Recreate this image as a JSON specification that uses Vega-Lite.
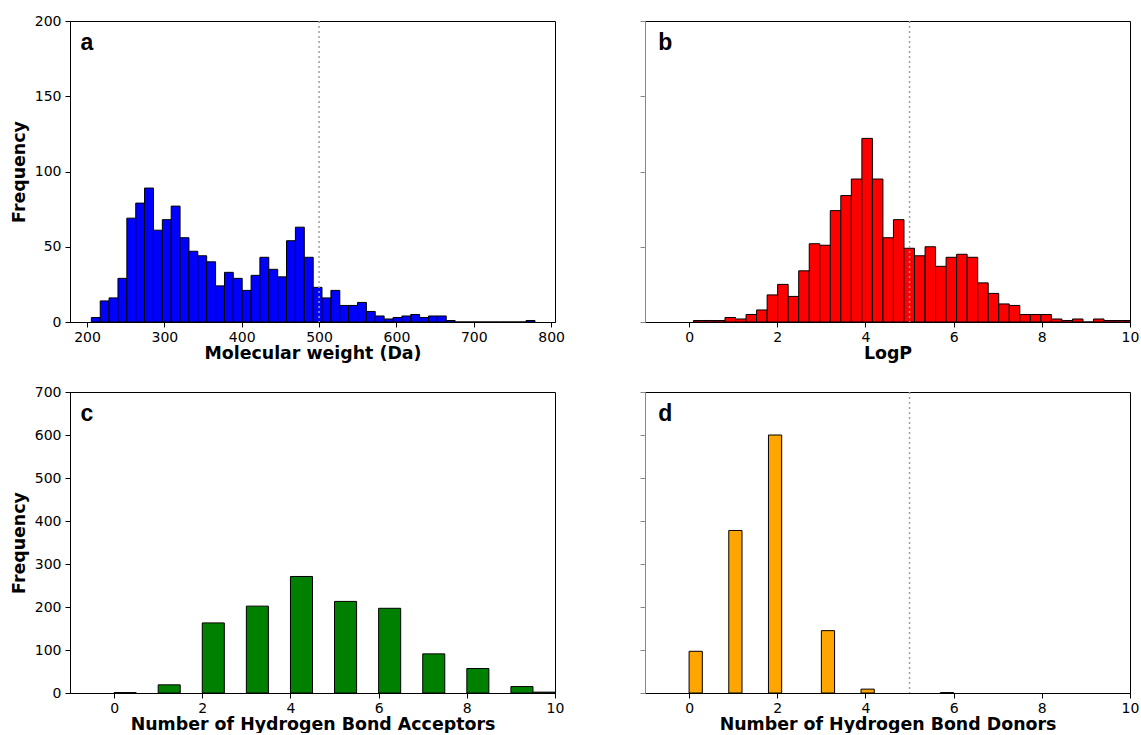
{
  "$schema": "https://vega.github.io/schema/vega-lite/v6.json",
  "padding": {"left": 9, "top": 13, "right": 5, "bottom": 0},
  "background": "white",
  "config": {
    "font": "DejaVu Sans",
    "view": {"stroke": "black", "strokeWidth": 1},
    "axis": {
      "labelFont": "DejaVu Sans", "labelFontSize": 14, "labelColor": "black",
      "titleFont": "DejaVu Sans", "titleFontSize": 17.4, "titleFontWeight": "bold", "titleColor": "black",
      "domainColor": "black", "tickColor": "black", "tickSize": 5, "labelPadding": 4,
      "grid": false, "labelFlush": false, "titlePadding": 6
    },
    "axisX": {"titlePadding": 0, "labelPadding": 3}
  },
  "columns": 2,
  "bounds": "flush",
  "spacing": {"row": 70, "column": 90},
  "concat": [
    {
      "width": 485, "height": 301,
      "layer": [
        {
          "data": {"values": [
            {"lo": 205.6, "hi": 217.1, "n": 3}, {"lo": 217.1, "hi": 228.5, "n": 14}, {"lo": 228.5, "hi": 240.0, "n": 16},
            {"lo": 240.0, "hi": 251.5, "n": 29}, {"lo": 251.5, "hi": 263.0, "n": 69}, {"lo": 263.0, "hi": 274.4, "n": 79},
            {"lo": 274.4, "hi": 285.9, "n": 89}, {"lo": 285.9, "hi": 297.4, "n": 61}, {"lo": 297.4, "hi": 308.8, "n": 68},
            {"lo": 308.8, "hi": 320.3, "n": 77}, {"lo": 320.3, "hi": 331.8, "n": 56}, {"lo": 331.8, "hi": 343.2, "n": 47},
            {"lo": 343.2, "hi": 354.7, "n": 44}, {"lo": 354.7, "hi": 366.2, "n": 40}, {"lo": 366.2, "hi": 377.7, "n": 24},
            {"lo": 377.7, "hi": 389.1, "n": 33}, {"lo": 389.1, "hi": 400.6, "n": 29}, {"lo": 400.6, "hi": 412.1, "n": 21},
            {"lo": 412.1, "hi": 423.5, "n": 31}, {"lo": 423.5, "hi": 435.0, "n": 43}, {"lo": 435.0, "hi": 446.5, "n": 35},
            {"lo": 446.5, "hi": 457.9, "n": 30}, {"lo": 457.9, "hi": 469.4, "n": 54}, {"lo": 469.4, "hi": 480.9, "n": 63},
            {"lo": 480.9, "hi": 492.4, "n": 43}, {"lo": 492.4, "hi": 503.8, "n": 23}, {"lo": 503.8, "hi": 515.3, "n": 16},
            {"lo": 515.3, "hi": 526.8, "n": 21}, {"lo": 526.8, "hi": 538.2, "n": 11}, {"lo": 538.2, "hi": 549.7, "n": 11},
            {"lo": 549.7, "hi": 561.2, "n": 13}, {"lo": 561.2, "hi": 572.6, "n": 7}, {"lo": 572.6, "hi": 584.1, "n": 4},
            {"lo": 584.1, "hi": 595.6, "n": 2}, {"lo": 595.6, "hi": 607.1, "n": 3}, {"lo": 607.1, "hi": 618.5, "n": 4},
            {"lo": 618.5, "hi": 630.0, "n": 5}, {"lo": 630.0, "hi": 641.5, "n": 3}, {"lo": 641.5, "hi": 652.9, "n": 4},
            {"lo": 652.9, "hi": 664.4, "n": 4}, {"lo": 664.4, "hi": 675.9, "n": 1}, {"lo": 675.9, "hi": 687.3, "n": 0},
            {"lo": 687.3, "hi": 698.8, "n": 0}, {"lo": 698.8, "hi": 710.3, "n": 0}, {"lo": 710.3, "hi": 721.8, "n": 0},
            {"lo": 721.8, "hi": 733.2, "n": 0}, {"lo": 733.2, "hi": 744.7, "n": 0}, {"lo": 744.7, "hi": 756.2, "n": 0},
            {"lo": 756.2, "hi": 767.6, "n": 0}, {"lo": 767.6, "hi": 779.1, "n": 1}
          ]},
          "mark": {"type": "bar", "color": "#0000ff", "stroke": "black", "strokeWidth": 1, "clip": true},
          "encoding": {
            "x": {"field": "lo", "type": "quantitative", "scale": {"domain": [178, 805], "nice": false, "zero": false},
                  "axis": {"values": [200, 300, 400, 500, 600, 700, 800], "title": "Molecular weight (Da)"}},
            "x2": {"field": "hi"},
            "y": {"field": "n", "type": "quantitative", "scale": {"domain": [0, 200], "nice": false},
                  "axis": {"values": [0, 50, 100, 150, 200], "title": "Frequency"}},
            "y2": {"datum": 0}
          }
        },
        {
          "data": {"values": [{"t": 500}]},
          "mark": {"type": "rule", "color": "#a0a0a0", "strokeDash": [2, 3], "strokeWidth": 1.5},
          "encoding": {"x": {"field": "t", "type": "quantitative"}}
        },
        {
          "data": {"values": [{"label": "a", "px": 191.5, "py": 180.5}]},
          "mark": {"type": "text", "font": "Liberation Sans", "fontWeight": "bold", "fontSize": 23, "align": "left", "baseline": "alphabetic", "color": "black"},
          "encoding": {"x": {"field": "px", "type": "quantitative"}, "y": {"field": "py", "type": "quantitative"}, "text": {"field": "label"}}
        }
      ]
    },
    {
      "width": 485, "height": 301,
      "layer": [
        {
          "data": {"values": [
            {"lo": 0.098, "hi": 0.337, "n": 1}, {"lo": 0.337, "hi": 0.576, "n": 1}, {"lo": 0.576, "hi": 0.814, "n": 1},
            {"lo": 0.814, "hi": 1.053, "n": 3}, {"lo": 1.053, "hi": 1.292, "n": 2}, {"lo": 1.292, "hi": 1.531, "n": 5},
            {"lo": 1.531, "hi": 1.770, "n": 8}, {"lo": 1.770, "hi": 2.008, "n": 18}, {"lo": 2.008, "hi": 2.247, "n": 25},
            {"lo": 2.247, "hi": 2.486, "n": 17}, {"lo": 2.486, "hi": 2.725, "n": 34}, {"lo": 2.725, "hi": 2.964, "n": 52},
            {"lo": 2.964, "hi": 3.202, "n": 51}, {"lo": 3.202, "hi": 3.441, "n": 74}, {"lo": 3.441, "hi": 3.680, "n": 84},
            {"lo": 3.680, "hi": 3.919, "n": 95}, {"lo": 3.919, "hi": 4.158, "n": 122}, {"lo": 4.158, "hi": 4.396, "n": 95},
            {"lo": 4.396, "hi": 4.635, "n": 56}, {"lo": 4.635, "hi": 4.874, "n": 68}, {"lo": 4.874, "hi": 5.113, "n": 49},
            {"lo": 5.113, "hi": 5.352, "n": 44}, {"lo": 5.352, "hi": 5.590, "n": 50}, {"lo": 5.590, "hi": 5.829, "n": 37},
            {"lo": 5.829, "hi": 6.068, "n": 43}, {"lo": 6.068, "hi": 6.307, "n": 45}, {"lo": 6.307, "hi": 6.546, "n": 43},
            {"lo": 6.546, "hi": 6.784, "n": 26}, {"lo": 6.784, "hi": 7.023, "n": 19}, {"lo": 7.023, "hi": 7.262, "n": 12},
            {"lo": 7.262, "hi": 7.501, "n": 11}, {"lo": 7.501, "hi": 7.740, "n": 5}, {"lo": 7.740, "hi": 7.978, "n": 5},
            {"lo": 7.978, "hi": 8.217, "n": 5}, {"lo": 8.217, "hi": 8.456, "n": 2}, {"lo": 8.456, "hi": 8.695, "n": 1},
            {"lo": 8.695, "hi": 8.934, "n": 2}, {"lo": 8.934, "hi": 9.172, "n": 0}, {"lo": 9.172, "hi": 9.411, "n": 2},
            {"lo": 9.411, "hi": 9.650, "n": 1}, {"lo": 9.650, "hi": 9.889, "n": 1}, {"lo": 9.889, "hi": 10.128, "n": 1}
          ]},
          "mark": {"type": "bar", "color": "#ff0000", "stroke": "black", "strokeWidth": 1, "clip": true},
          "encoding": {
            "x": {"field": "lo", "type": "quantitative", "scale": {"domain": [-1, 10], "nice": false, "zero": false},
                  "axis": {"values": [0, 2, 4, 6, 8, 10], "title": "LogP"}},
            "x2": {"field": "hi"},
            "y": {"field": "n", "type": "quantitative", "scale": {"domain": [0, 200], "nice": false},
                  "axis": {"values": [0, 50, 100, 150, 200], "labels": false, "title": null, "tickColor": "#888888", "domainColor": "#888888"}},
            "y2": {"datum": 0}
          }
        },
        {
          "data": {"values": [{"t": 5}]},
          "mark": {"type": "rule", "color": "#a0a0a0", "strokeDash": [2, 3], "strokeWidth": 1.5},
          "encoding": {"x": {"field": "t", "type": "quantitative"}}
        },
        {
          "data": {"values": [{"label": "b", "px": -0.7, "py": 180.5}]},
          "mark": {"type": "text", "font": "Liberation Sans", "fontWeight": "bold", "fontSize": 23, "align": "left", "baseline": "alphabetic", "color": "black"},
          "encoding": {"x": {"field": "px", "type": "quantitative"}, "y": {"field": "py", "type": "quantitative"}, "text": {"field": "label"}}
        }
      ]
    },
    {
      "width": 485, "height": 301,
      "layer": [
        {
          "data": {"values": [
            {"lo": 0, "hi": 0.5, "n": 1}, {"lo": 1, "hi": 1.5, "n": 19}, {"lo": 2, "hi": 2.5, "n": 163},
            {"lo": 3, "hi": 3.5, "n": 202}, {"lo": 4, "hi": 4.5, "n": 271}, {"lo": 5, "hi": 5.5, "n": 213},
            {"lo": 6, "hi": 6.5, "n": 197}, {"lo": 7, "hi": 7.5, "n": 91}, {"lo": 8, "hi": 8.5, "n": 57},
            {"lo": 9, "hi": 9.5, "n": 15}, {"lo": 9.5, "hi": 10, "n": 2}
          ]},
          "mark": {"type": "bar", "color": "#008000", "stroke": "black", "strokeWidth": 1, "clip": true},
          "encoding": {
            "x": {"field": "lo", "type": "quantitative", "scale": {"domain": [-1, 10], "nice": false, "zero": false},
                  "axis": {"values": [0, 2, 4, 6, 8, 10], "title": "Number of Hydrogen Bond Acceptors"}},
            "x2": {"field": "hi"},
            "y": {"field": "n", "type": "quantitative", "scale": {"domain": [0, 700], "nice": false},
                  "axis": {"values": [0, 100, 200, 300, 400, 500, 600, 700], "title": "Frequency"}},
            "y2": {"datum": 0}
          }
        },
        {
          "data": {"values": [{"label": "c", "px": -0.76, "py": 633}]},
          "mark": {"type": "text", "font": "Liberation Sans", "fontWeight": "bold", "fontSize": 23, "align": "left", "baseline": "alphabetic", "color": "black"},
          "encoding": {"x": {"field": "px", "type": "quantitative"}, "y": {"field": "py", "type": "quantitative"}, "text": {"field": "label"}}
        }
      ]
    },
    {
      "width": 485, "height": 301,
      "layer": [
        {
          "data": {"values": [
            {"lo": 0, "hi": 0.3, "n": 97}, {"lo": 0.9, "hi": 1.2, "n": 378}, {"lo": 1.8, "hi": 2.1, "n": 600},
            {"lo": 3.0, "hi": 3.3, "n": 145}, {"lo": 3.9, "hi": 4.2, "n": 9}, {"lo": 5.7, "hi": 6.0, "n": 1}
          ]},
          "mark": {"type": "bar", "color": "#ffa500", "stroke": "black", "strokeWidth": 1, "clip": true},
          "encoding": {
            "x": {"field": "lo", "type": "quantitative", "scale": {"domain": [-1, 10], "nice": false, "zero": false},
                  "axis": {"values": [0, 2, 4, 6, 8, 10], "title": "Number of Hydrogen Bond Donors"}},
            "x2": {"field": "hi"},
            "y": {"field": "n", "type": "quantitative", "scale": {"domain": [0, 700], "nice": false},
                  "axis": {"values": [0, 100, 200, 300, 400, 500, 600, 700], "labels": false, "title": null, "tickColor": "#888888", "domainColor": "#888888"}},
            "y2": {"datum": 0}
          }
        },
        {
          "data": {"values": [{"t": 5}]},
          "mark": {"type": "rule", "color": "#a0a0a0", "strokeDash": [2, 3], "strokeWidth": 1.5},
          "encoding": {"x": {"field": "t", "type": "quantitative"}}
        },
        {
          "data": {"values": [{"label": "d", "px": -0.7, "py": 633}]},
          "mark": {"type": "text", "font": "Liberation Sans", "fontWeight": "bold", "fontSize": 23, "align": "left", "baseline": "alphabetic", "color": "black"},
          "encoding": {"x": {"field": "px", "type": "quantitative"}, "y": {"field": "py", "type": "quantitative"}, "text": {"field": "label"}}
        }
      ]
    }
  ]
}
